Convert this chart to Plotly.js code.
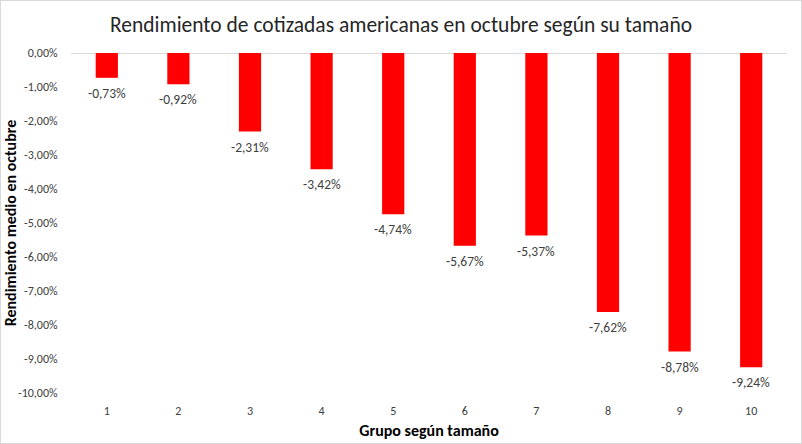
<!DOCTYPE html>
<html>
<head>
<meta charset="utf-8">
<script src="https://cdn.plot.ly/plotly-3.0.1.min.js"></script>
<style>
html,body{margin:0;padding:0;background:#fff;}
#chart{width:800px;height:442px;border:1px solid #d9d9d9;}
</style>
</head>
<body>
<div id="chart"></div>
<script>
var categories = ['1','2','3','4','5','6','7','8','9','10'];
var values = [-0.73, -0.92, -2.31, -3.42, -4.74, -5.67, -5.37, -7.62, -8.78, -9.24];
var yTickVals = [0, -1, -2, -3, -4, -5, -6, -7, -8, -9, -10];
var yTickText = ['0,00%','-1,00%','-2,00%','-3,00%','-4,00%','-5,00%','-6,00%','-7,00%','-8,00%','-9,00%','-10,00%'];
var barLabels = values.map(function(v){ return v.toFixed(2).replace('.', ',') + '%'; });

var FONT = "Carlito, Calibri, 'Open Sans', sans-serif";

var trace = {
  type: 'bar',
  x: categories,
  y: values,
  marker: {color: '#ff0000'},
  hoverinfo: 'none'
};

// category axis: annotation x is the category's index on that axis
var labelAnnotations = categories.map(function(c, i){
  return {
    x: i, y: values[i], xref: 'x', yref: 'y',
    text: barLabels[i],
    showarrow: false,
    xanchor: 'center', yanchor: 'top',
    yshift: -5,
    font: {family: FONT, size: 13.5, color: '#404040'}
  };
});

var layout = {
  width: 800,
  height: 442,
  margin: {l: 70, r: 14, t: 52, b: 50},
  paper_bgcolor: '#ffffff',
  plot_bgcolor: '#ffffff',
  bargap: 0.69,
  showlegend: false,
  title: {
    text: 'Rendimiento de cotizadas americanas en octubre según su tamaño',
    font: {family: FONT, size: 21.5, color: '#262626'},
    x: 0.5, xref: 'container', xanchor: 'center',
    y: 0.948, yref: 'container', yanchor: 'middle'
  },
  xaxis: {
    type: 'category',
    range: [-0.5, categories.length - 0.5],
    showgrid: false,
    showline: false,
    zeroline: false,
    ticks: 'outside', ticklen: 7, tickcolor: 'rgba(0,0,0,0)',
    tickfont: {family: FONT, size: 12, color: '#404040'},
    title: {text: 'Grupo según tamaño', font: {family: FONT, size: 16, color: '#000000', weight: 'bold'}, standoff: 7}
  },
  yaxis: {
    range: [-10, 0],
    tickvals: yTickVals,
    ticktext: yTickText,
    showgrid: false,
    showline: false,
    zeroline: true,
    zerolinecolor: '#d9d9d9',
    zerolinewidth: 1,
    ticks: 'outside', ticklen: 10, tickcolor: 'rgba(0,0,0,0)',
    tickfont: {family: FONT, size: 12, color: '#404040'},
    title: {text: 'Rendimiento medio en octubre', font: {family: FONT, size: 16, color: '#000000', weight: 'bold'}, standoff: 4}
  },
  annotations: labelAnnotations.concat([{
    text: '<span style="color:#d9262c">es</span><span style="color:#333333">Bolsa</span>',
    xref: 'paper', yref: 'container',
    x: 1, y: 0.95, xanchor: 'right', yanchor: 'middle',
    showarrow: false,
    font: {family: "Roboto, 'Noto Sans', sans-serif", size: 20}
  }])
};

Plotly.newPlot('chart', [trace], layout, {displayModeBar: false, staticPlot: true});
</script>
</body>
</html>
